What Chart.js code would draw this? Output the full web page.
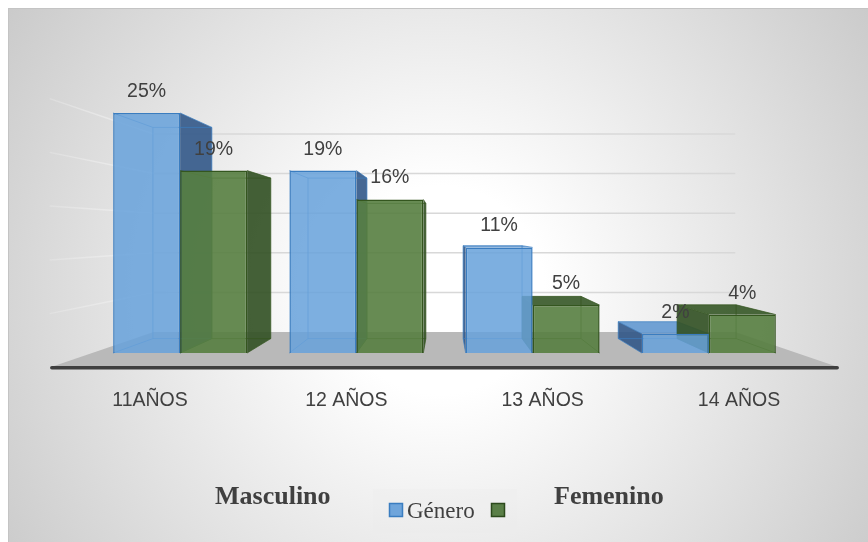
<!DOCTYPE html>
<html>
<head>
<meta charset="utf-8">
<script src="https://cdn.jsdelivr.net/npm/chart.js@4/dist/chart.umd.min.js"></script>
<style>
  html, body { margin: 0; padding: 0; background: #fff; }
  #wrap { position: relative; width: 868px; height: 542px; }
</style>
</head>
<body>
<div id="wrap"><canvas id="grafico"></canvas></div>
<script>
// edades y porcentajes por género
const categorias = ['11AÑOS', '12 AÑOS', '13 AÑOS', '14 AÑOS'];
const masculino = [25, 19, 11, 2];
const femenino = [19, 16, 5, 4];
const yMax = 25;
const yPaso = 5;

// profundidad de la vista 3D (escala hacia el punto de fuga)
const profBarra = 0.88;
const profPared = 0.825;
const profSuelo = 1.114;

const colores = {
  azul:  { frente: 'rgba(104,162,219,0.86)', borde: '#3a7dc0', lado: 'rgba(50,88,136,0.9)', tapa: 'rgba(98,152,208,0.9)' },
  verde: { frente: 'rgba(86,126,64,0.9)', borde: '#34561f', lado: 'rgba(52,82,38,0.92)', tapa: 'rgba(58,90,42,0.92)' }
};

function proyectar(c, x, y, s) {
  return { x: c.x + (x - c.x) * s, y: c.y + (y - c.y) * s };
}

function poligono(ctx, pts, relleno, borde) {
  ctx.beginPath();
  ctx.moveTo(pts[0].x, pts[0].y);
  for (let i = 1; i < pts.length; i++) ctx.lineTo(pts[i].x, pts[i].y);
  ctx.closePath();
  if (relleno) { ctx.fillStyle = relleno; ctx.fill(); }
  if (borde) { ctx.strokeStyle = borde; ctx.stroke(); }
}

const caja3d = {
  id: 'caja3d',
  beforeDraw(chart) {
    const ctx = chart.ctx;
    const w = chart.width, h = chart.height;
    ctx.save();
    ctx.fillStyle = '#ffffff';
    ctx.fillRect(0, 0, w, h);
    const g = ctx.createRadialGradient(440, 290, 0, 440, 290, 520);
    g.addColorStop(0, '#ffffff');
    g.addColorStop(0.2, '#ffffff');
    g.addColorStop(1, '#cacaca');
    ctx.fillStyle = g;
    ctx.fillRect(9, 9, w - 9, h - 9);
    ctx.strokeStyle = '#c4c4c4';
    ctx.lineWidth = 1;
    ctx.strokeRect(8.5, 8.5, w, h);
    ctx.restore();
  },
  beforeDatasetsDraw(chart) {
    const ctx = chart.ctx;
    const a = chart.chartArea;
    const y = chart.scales.y;
    const c = { x: (a.left + a.right) / 2, y: (a.top + a.bottom) / 2 };
    ctx.save();

    // pared del fondo y pared izquierda
    ctx.lineWidth = 1.5;
    for (let v = yPaso; v <= yMax; v += yPaso) {
      const py = y.getPixelForValue(v);
      const p1 = proyectar(c, a.left, py, profPared);
      const p2 = proyectar(c, a.right, py, profPared);
      ctx.strokeStyle = '#d8d8d8';
      ctx.beginPath(); ctx.moveTo(p1.x, p1.y); ctx.lineTo(p2.x, p2.y); ctx.stroke();
      const p0 = proyectar(c, a.left, py, 1.12);
      const lg = ctx.createLinearGradient(p0.x, 0, p1.x, 0);
      lg.addColorStop(0, 'rgba(238,238,238,0.3)');
      lg.addColorStop(1, 'rgba(238,238,238,1)');
      ctx.strokeStyle = lg;
      ctx.beginPath(); ctx.moveTo(p0.x, p0.y); ctx.lineTo(p1.x, p1.y); ctx.stroke();
    }

    // suelo
    const b0 = y.getPixelForValue(0);
    const s1 = proyectar(c, a.left, b0, profPared);
    const s2 = proyectar(c, a.right, b0, profPared);
    const s3 = proyectar(c, a.right, b0, profSuelo);
    const s4 = proyectar(c, a.left, b0, profSuelo);
    poligono(ctx, [s1, s2, s3, s4], '#b9b9b9');
    ctx.strokeStyle = '#3f3f3f';
    ctx.lineWidth = 3.5;
    ctx.lineCap = 'round';
    ctx.beginPath(); ctx.moveTo(s4.x, s4.y + 1); ctx.lineTo(s3.x, s3.y + 1); ctx.stroke();

    // caras laterales, tapas y aristas traseras de las barras
    ctx.lineWidth = 1;
    ctx.lineCap = 'butt';
    chart.data.datasets.forEach((ds, i) => {
      const col = i === 0 ? colores.azul : colores.verde;
      chart.getDatasetMeta(i).data.forEach(bar => {
        const L = bar.x - bar.width / 2, R = bar.x + bar.width / 2;
        const T = bar.y, B = bar.base;
        const fTL = { x: L, y: T }, fTR = { x: R, y: T }, fBL = { x: L, y: B }, fBR = { x: R, y: B };
        const bTL = proyectar(c, L, T, profBarra), bTR = proyectar(c, R, T, profBarra);
        const bBL = proyectar(c, L, B, profBarra), bBR = proyectar(c, R, B, profBarra);
        if (T > c.y) poligono(ctx, [fTL, fTR, bTR, bTL], col.tapa);
        if (bar.x < c.x) poligono(ctx, [fTR, bTR, bBR, fBR], col.lado);
        else poligono(ctx, [fTL, bTL, bBL, fBL], col.lado);
        ctx.globalAlpha = 0.7;
        poligono(ctx, [bTL, bTR, bBR, bBL], null, col.borde);
        [[fTL, bTL], [fTR, bTR], [fBL, bBL], [fBR, bBR]].forEach(([p, q]) => {
          ctx.strokeStyle = col.borde;
          ctx.beginPath(); ctx.moveTo(p.x, p.y); ctx.lineTo(q.x, q.y); ctx.stroke();
        });
        ctx.globalAlpha = 1;
      });
    });
    ctx.restore();
  },
  afterDatasetsDraw(chart) {
    const ctx = chart.ctx;
    const a = chart.chartArea;
    const x = chart.scales.x;
    const c = { x: (a.left + a.right) / 2, y: (a.top + a.bottom) / 2 };
    ctx.save();
    ctx.fillStyle = '#404040';
    ctx.textAlign = 'center';
    ctx.textBaseline = 'alphabetic';

    // porcentajes sobre cada barra
    ctx.font = '19.5px "Liberation Sans", Arial, sans-serif';
    chart.data.datasets.forEach((ds, i) => {
      chart.getDatasetMeta(i).data.forEach((bar, j) => {
        ctx.fillText(ds.data[j] + '%', bar.x, bar.y - 16);
      });
    });

    // etiquetas de edad sobre el borde del suelo
    categorias.forEach((cat, j) => {
      const p = proyectar(c, x.getPixelForValue(j), a.bottom, profSuelo);
      ctx.fillText(cat, p.x, 406);
    });

    // títulos y leyenda
    ctx.textAlign = 'left';
    ctx.font = 'bold 26px "Liberation Serif", "Times New Roman", serif';
    ctx.fillText('Masculino', 215, 504);
    ctx.fillText('Femenino', 554, 504);

    ctx.fillStyle = 'rgba(236,236,236,0.25)';
    ctx.fillRect(373, 489, 144, 44);

    ctx.lineWidth = 1.5;
    ctx.fillStyle = '#6fa5db';
    ctx.strokeStyle = '#3a7dc0';
    ctx.fillRect(389.5, 503.5, 13, 13);
    ctx.strokeRect(389.5, 503.5, 13, 13);
    ctx.fillStyle = '#5a7f47';
    ctx.strokeStyle = '#2c4a1c';
    ctx.fillRect(491.5, 503.5, 13, 13);
    ctx.strokeRect(491.5, 503.5, 13, 13);

    ctx.fillStyle = '#404040';
    ctx.font = '23px "Liberation Serif", "Times New Roman", serif';
    ctx.fillText(chart.data.datasets[0].label, 407, 518);
    ctx.restore();
  }
};

new Chart(document.getElementById('grafico'), {
  type: 'bar',
  data: {
    labels: categorias,
    datasets: [
      {
        label: 'Género',
        data: masculino,
        backgroundColor: colores.azul.frente,
        borderColor: colores.azul.borde,
        borderWidth: 1.5,
        categoryPercentage: 0.76,
        barPercentage: 1,
        clip: false
      },
      {
        label: '',
        data: femenino,
        backgroundColor: colores.verde.frente,
        borderColor: colores.verde.borde,
        borderWidth: 1.5,
        categoryPercentage: 0.76,
        barPercentage: 1,
        clip: false
      }
    ]
  },
  options: {
    responsive: true,
    maintainAspectRatio: false,
    animation: false,
    layout: { padding: { left: 92, right: 71, top: 113, bottom: 189 } },
    plugins: { legend: { display: false }, tooltip: { enabled: false } },
    scales: {
      x: { display: false },
      y: { display: false, min: 0, max: yMax, ticks: { stepSize: yPaso } }
    }
  },
  plugins: [caja3d]
});
</script>
</body>
</html>
